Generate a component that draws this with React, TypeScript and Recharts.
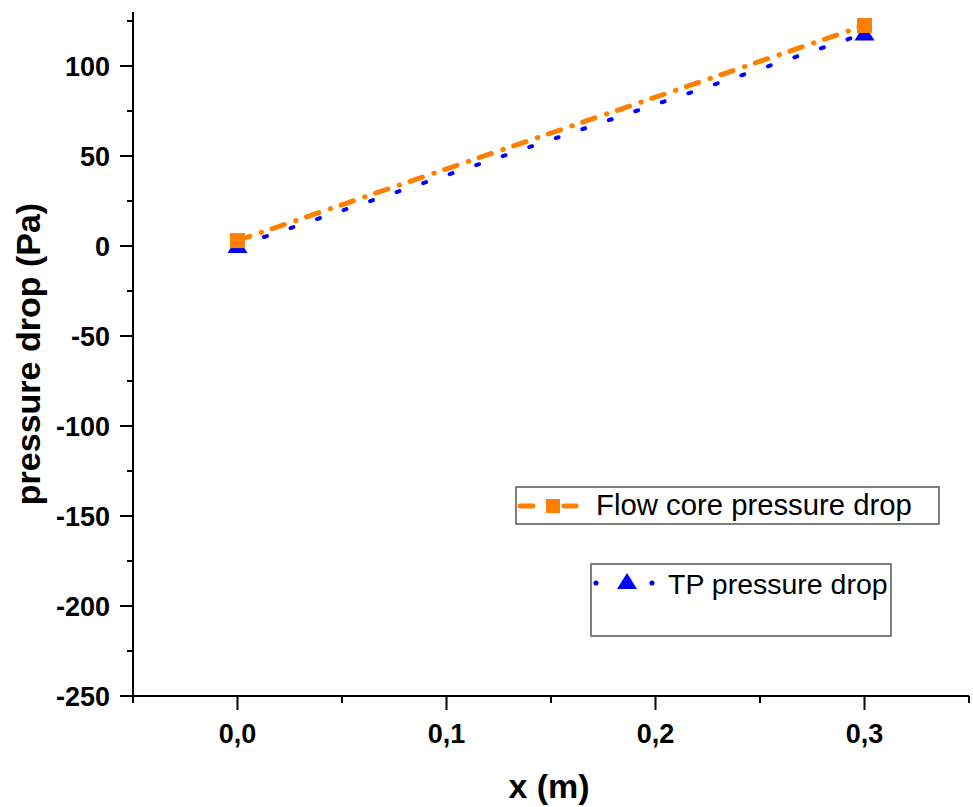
import { LineChart, Line, XAxis, YAxis } from 'recharts';

// positions along the channel (m)
const xValues = [0, 0.3];
// pressure drop (Pa)
const flowCore = [3, 122.5];
const tpDrop = [0, 118];

const xTicks = [-0.05, 0, 0.05, 0.1, 0.15, 0.2, 0.25, 0.3, 0.35];
const yTicks = [-250, -225, -200, -175, -150, -125, -100, -75, -50, -25, 0, 25, 50, 75, 100, 125];

const seriesNames = ['Flow core pressure drop', 'TP pressure drop'];

const ORANGE = '#FF8000';
const BLUE = '#0000FF';
const FONT = "'Liberation Sans', Arial, sans-serif";

const data = xValues.map((x, i) => ({ x, flow: flowCore[i], tp: tpDrop[i] }));

const isMajorX = (v: number) => v >= -1e-9 && v <= 0.3 + 1e-9 && Math.abs(v * 10 - Math.round(v * 10)) < 1e-6;

const XTick = (props: any) => {
  const { x, y, payload } = props;
  const major = isMajorX(payload.value);
  return (
    <g>
      <line x1={x} x2={x} y1={y} y2={y + (major ? 14 : 7)} stroke="#000" strokeWidth={2} />
      {major && (
        <text x={x} y={y + 47} textAnchor="middle" fontFamily={FONT} fontWeight="bold" fontSize={27} fill="#000">
          {payload.value.toFixed(1).replace('.', ',')}
        </text>
      )}
    </g>
  );
};

const YTick = (props: any) => {
  const { x, y, payload } = props;
  const major = payload.value % 50 === 0;
  return (
    <g>
      <line x1={x} x2={x - (major ? 13 : 6)} y1={y} y2={y} stroke="#000" strokeWidth={2} />
      {major && (
        <text x={x - 23} y={y + 10} textAnchor="end" fontFamily={FONT} fontWeight="bold" fontSize={27} fill="#000">
          {payload.value}
        </text>
      )}
    </g>
  );
};

const SquareDot = (props: any) => {
  const { cx, cy } = props;
  return <rect x={cx - 7.5} y={cy - 7.5} width={15} height={15} fill={ORANGE} />;
};

const TriangleDot = (props: any) => {
  const { cx, cy } = props;
  return <polygon points={`${cx},${cy - 9} ${cx + 10},${cy + 7} ${cx - 10},${cy + 7}`} fill={BLUE} />;
};

function LegendOverlay() {
  return (
    <svg width={973} height={807} style={{ position: 'absolute', left: 0, top: 0, pointerEvents: 'none' }}>
      <rect x={516} y={487} width={423} height={37} fill="#fff" stroke="#555" strokeWidth={1.5} />
      <line x1={520} x2={533} y1={506} y2={506} stroke={ORANGE} strokeWidth={5} strokeLinecap="round" />
      <rect x={546} y={499} width={14} height={14} fill={ORANGE} />
      <line x1={564} x2={576} y1={506} y2={506} stroke={ORANGE} strokeWidth={5} strokeLinecap="round" />
      <text x={596} y={515} fontFamily={FONT} fontSize={29.3} fill="#000">{seriesNames[0]}</text>

      <rect x={591} y={564} width={300} height={72} fill="#fff" stroke="#555" strokeWidth={1.5} />
      <circle cx={596} cy={583} r={2.5} fill={BLUE} />
      <polygon points="627,573 637,589 617,589" fill={BLUE} />
      <circle cx={652} cy={583} r={2.5} fill={BLUE} />
      <text x={668} y={594} fontFamily={FONT} fontSize={28.5} fill="#000">{seriesNames[1]}</text>
    </svg>
  );
}

export default function App() {
  return (
    <div style={{ position: 'absolute', left: 0, top: 0, width: 973, height: 807, background: '#fff' }}>
      <LineChart width={973} height={807} data={data} margin={{ top: 12, right: 4, left: 0, bottom: 0 }}>
        <XAxis
          dataKey="x"
          type="number"
          domain={[-0.05, 0.35]}
          ticks={xTicks}
          interval={0}
          allowDataOverflow
          height={111}
          tickSize={0}
          tickMargin={0}
          tickLine={false}
          axisLine={{ stroke: '#000', strokeWidth: 2 }}
          tick={<XTick />}
          label={{
            content: (p: any) => {
              const vb = p.viewBox;
              return (
                <text x={vb.x + vb.width / 2 - 2} y={vb.y + 102} textAnchor="middle" fontFamily={FONT} fontWeight="bold" fontSize={34} fill="#000">
                  x (m)
                </text>
              );
            },
          }}
        />
        <YAxis
          type="number"
          domain={[-250, 130]}
          ticks={yTicks}
          interval={0}
          allowDataOverflow
          width={133}
          tickSize={0}
          tickMargin={0}
          tickLine={false}
          axisLine={{ stroke: '#000', strokeWidth: 2 }}
          tick={<YTick />}
          label={{
            content: (p: any) => {
              const vb = p.viewBox;
              const cy = vb.y + vb.height / 2;
              return (
                <text x={40} y={cy} transform={`rotate(-90, 40, ${cy})`} textAnchor="middle" fontFamily={FONT} fontWeight="bold" fontSize={34} fill="#000">
                  pressure drop (Pa)
                </text>
              );
            },
          }}
        />
        <Line
          type="linear"
          dataKey="tp"
          name={seriesNames[1]}
          stroke={BLUE}
          strokeWidth={4}
          strokeDasharray="3 25"
          strokeLinecap="round"
          dot={<TriangleDot />}
          activeDot={false}
          isAnimationActive={false}
        />
        <Line
          type="linear"
          dataKey="flow"
          name={seriesNames[0]}
          stroke={ORANGE}
          strokeWidth={5}
          strokeDasharray="13 12 0.5 11"
          strokeLinecap="round"
          dot={<SquareDot />}
          activeDot={false}
          isAnimationActive={false}
        />
      </LineChart>
      <LegendOverlay />
    </div>
  );
}
